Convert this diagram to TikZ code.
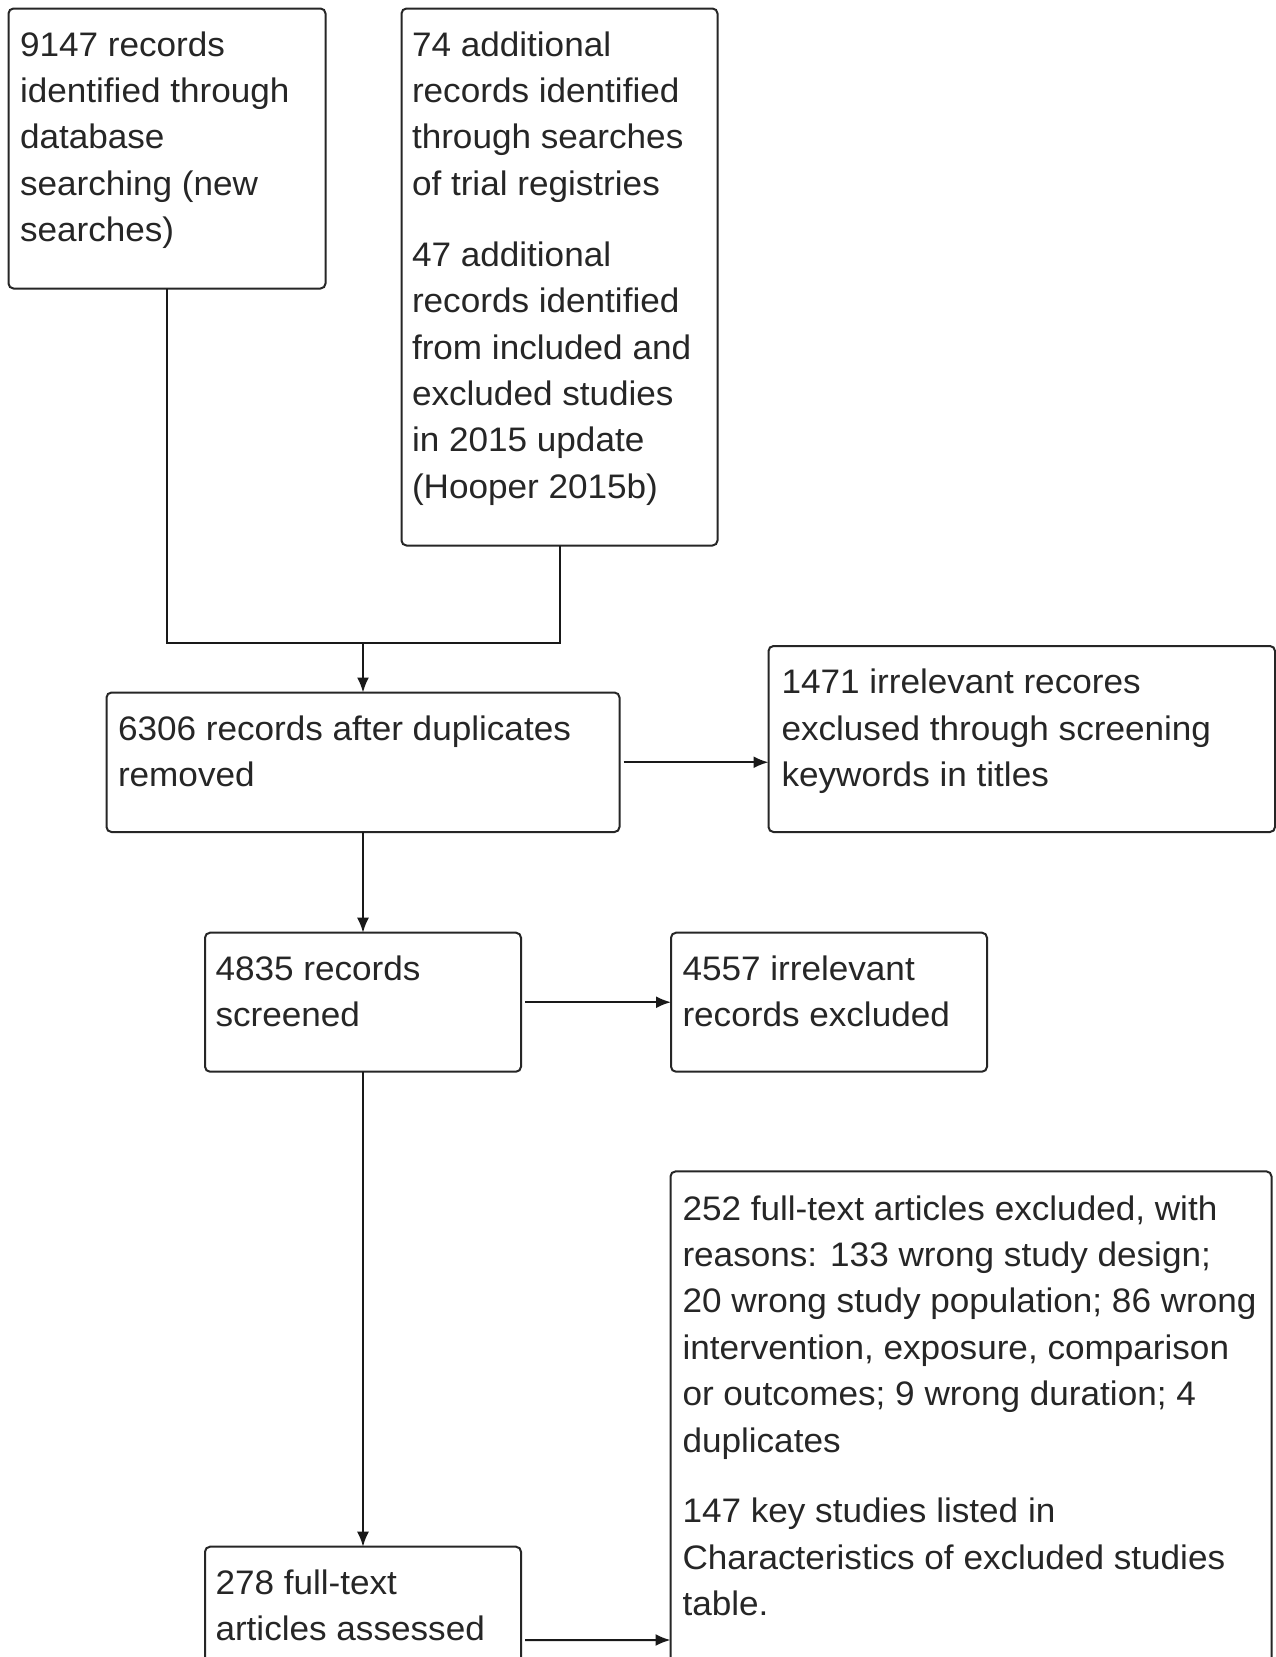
\documentclass[tikz,border=0pt]{standalone}
\usepackage{fontspec}
\setmainfont{Liberation Sans}[FakeStretch=1.033]
\usetikzlibrary{arrows.meta,calc}
\tikzset{
  box/.style={draw=black!85, line width=2pt, rounded corners=5pt, rectangle, inner sep=0pt, outer sep=0pt, anchor=north west},
  txt/.style={anchor=north west, inner sep=0pt, outer sep=0pt, align=left, text=black!85,
              font={\fontsize{34}{46.4}\selectfont}},
  conn/.style={draw=black!90, line width=2pt},
  arr/.style={conn, -{Latex[length=15pt,width=12pt]}}
}
\begin{document}
\begin{tikzpicture}[x=1pt,y=-1pt]
\useasboundingbox[fill=white] (0,0) rectangle (1276,1657);
% boxes
\node[box, minimum width=317pt, minimum height=280pt] (A) at (8.5,8.5) {};
\node[box, minimum width=316pt, minimum height=537pt] (B) at (401.5,8.5) {};
\node[box, minimum width=513pt, minimum height=139.5pt] (C) at (106.5,692.5) {};
\node[box, minimum width=506.5pt, minimum height=186pt] (D) at (768.5,646) {};
\node[box, minimum width=316pt, minimum height=139pt] (E) at (205,932.7) {};
\node[box, minimum width=316pt, minimum height=139pt] (F) at (671,932.7) {};
\node[box, minimum width=316pt, minimum height=186.6pt] (G) at (205,1546.7) {};
\node[box, minimum width=601pt, minimum height=937.2pt] (H) at (670.5,1171.4) {};
% texts
\node[txt] (At) at ($(A.north west)+(11.5,23)$) {9147 records\\identified through\\database\\searching (new\\searches)};
\node[txt] (Bt) at ($(B.north west)+(10.5,23)$) {74 additional\\records identified\\through searches\\of trial registries\\[24.5pt]47 additional\\records identified\\from included and\\excluded studies\\in 2015 update\\(Hooper 2015b)};
\node[txt] (Ct) at ($(C.north west)+(11.5,23)$) {6306 records after duplicates\\removed};
\node[txt] (Dt) at ($(D.north west)+(13,23)$) {1471 irrelevant recores\\exclused through screening\\keywords in titles};
\node[txt] (Et) at ($(E.north west)+(10.5,23)$) {4835 records\\screened};
\node[txt] (Ft) at ($(F.north west)+(11.5,23)$) {4557 irrelevant\\records excluded};
\node[txt] (Gt) at ($(G.north west)+(10.5,23)$) {278 full-text\\articles assessed};
\node[txt] (Ht) at ($(H.north west)+(12,24)$) {252 full-text articles excluded, with\\reasons: 133 wrong study design;\\20 wrong study population; 86 wrong\\intervention, exposure, comparison\\or outcomes; 9 wrong duration; 4\\duplicates\\[24.5pt]147 key studies listed in\\Characteristics of excluded studies\\table.};
% connectors
\coordinate (J) at ($(C.north)+(0,-50)$);
\draw[conn] (A.south) |- (J);
\draw[conn] (B.south) |- (J);
\draw[arr] (J) -- (C.north);
\draw[arr] ($(C.east)+(4,0)$) -- (C.east -| D.west);
\draw[arr] (C.south) -- (E.north);
\draw[arr] ($(E.east)+(4,0)$) -- (F.west);
\draw[arr] (E.south) -- (G.north);
\draw[arr] ($(G.east)+(4,0)$) -- (H.west);
\end{tikzpicture}
\end{document}
